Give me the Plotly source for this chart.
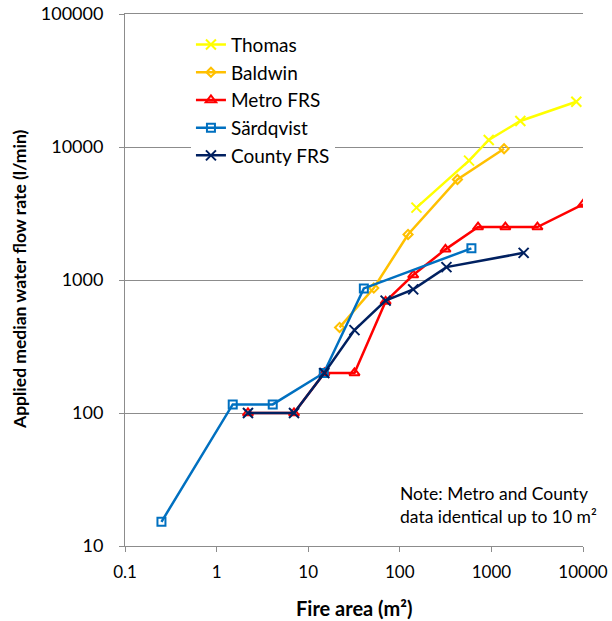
import plotly.graph_objects as go

thomas_x = [152, 570, 935, 2070, 8450]
thomas_y = [3500, 7900, 11300, 15700, 21900]

baldwin_x = [22, 52, 123, 426, 1375]
baldwin_y = [440, 870, 2200, 5700, 9700]

metro_x = [2.2, 7, 15, 32, 70, 140, 315, 715, 1420, 3180, 10000]
metro_y = [100, 100, 200, 200, 690, 1090, 1700, 2500, 2500, 2500, 3700]

sard_x = [0.25, 1.5, 4.1, 14.8, 40.5, 605]
sard_y = [15.2, 116, 116, 200, 865, 1730]

county_x = [2.2, 7, 15, 32, 70, 140, 323, 2250]
county_y = [100, 100, 200, 420, 700, 850, 1250, 1600]

x_ticks = [0.1, 1, 10, 100, 1000, 10000]
x_tick_labels = ["0.1", "1", "10", "100", "1000", "10000"]
y_ticks = [10, 100, 1000, 10000, 100000]
y_tick_labels = ["10", "100", "1000", "10000", "100000"]

FONT = "Lato"
GRID = "#8c8c8c"

series = [
    ("Thomas", thomas_x, thomas_y, "#FFFF00", "x-thin-open", 10),
    ("Baldwin", baldwin_x, baldwin_y, "#FFC000", "diamond-open", 7),
    ("Metro FRS", metro_x, metro_y, "#FF0000", "triangle-up-open", 9),
    ("Särdqvist", sard_x, sard_y, "#0070C0", "square-open", 8),
    ("County FRS", county_x, county_y, "#002060", "x-thin-open", 10),
]

fig = go.Figure()
for name, xs, ys, color, sym, size in series:
    fig.add_trace(go.Scatter(
        x=xs, y=ys, name=name, mode="lines+markers",
        line=dict(color=color, width=2.5),
        marker=dict(symbol=sym, size=size, color=color,
                    line=dict(color=color, width=2)),
    ))

fig.update_layout(
    width=612, height=621,
    margin=dict(l=125, r=29, t=14, b=75),
    paper_bgcolor="white", plot_bgcolor="white",
    font=dict(family=FONT, size=14, color="#000000"),
    showlegend=True,
    legend=dict(
        x=0.144, y=0.978, xanchor="left", yanchor="top",
        bgcolor="white", borderwidth=0,
        font=dict(family=FONT, size=19, color="#000000"),
        tracegroupgap=0,
    ),
    annotations=[
        dict(
            x=0.596, y=0.077, xref="paper", yref="paper",
            xanchor="left", yanchor="middle", align="left", showarrow=False,
            text="Note: Metro and County<br>data identical up to 10 m²",
            font=dict(family=FONT, size=17.5, color="#000000"),
        ),
        dict(
            x=0.5, y=0, xref="paper", yref="paper",
            xanchor="center", yanchor="middle", showarrow=False, yshift=-62,
            text="<b>Fire area (m²)</b>",
            font=dict(family=FONT, size=20, color="#000000"),
        ),
        dict(
            x=0, y=0.5, xref="paper", yref="paper", textangle=-90,
            xanchor="center", yanchor="middle", showarrow=False,
            xshift=-106, yshift=0,
            text="<b>Applied median water flow rate (l/min)</b>",
            font=dict(family=FONT, size=17.5, color="#000000"),
        ),
    ],
)

fig.update_xaxes(
    type="log", range=[-1, 4], automargin=False,
    tickvals=x_ticks, ticktext=x_tick_labels,
    showgrid=False, showline=True, linecolor=GRID, linewidth=1, mirror=True,
    ticks="outside", ticklen=5, tickcolor=GRID, ticklabelstandoff=6,
    ticklabeloverflow="allow",
    tickfont=dict(family=FONT, size=17, color="#000000"),
    zeroline=False,
)
fig.update_yaxes(
    type="log", range=[1, 5], automargin=False,
    tickvals=y_ticks, ticktext=y_tick_labels,
    showgrid=True, gridcolor=GRID, gridwidth=1,
    showline=True, linecolor=GRID, linewidth=1,
    ticks="outside", ticklen=5, tickcolor=GRID, ticklabelstandoff=12,
    ticklabeloverflow="allow",
    tickfont=dict(family=FONT, size=18, color="#000000"),
    zeroline=False,
)

fig.write_html(
    "out.html",
    config={"displayModeBar": False},
    post_script="document.body.style.margin='0';document.body.style.overflow='hidden';",
)
